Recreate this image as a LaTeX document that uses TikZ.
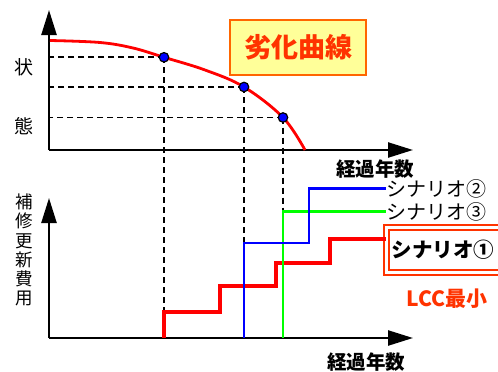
\documentclass[tikz,border=0pt]{standalone}
\usepackage{fontspec}
\newfontfamily\jp{Noto Sans CJK JP}
\usetikzlibrary{arrows.meta}
\definecolor{lccred}{HTML}{FF3300}
\definecolor{boxorange}{HTML}{FF6600}
\definecolor{boxyellow}{HTML}{FFFF99}
\definecolor{curvered}{HTML}{FF0000}
\definecolor{stepblue}{HTML}{0000FF}
\definecolor{stepgreen}{HTML}{00FF00}
\begin{document}
\begin{tikzpicture}[x=1pt,y=-1pt,
  axis/.style={line width=2.4pt,-{Triangle[length=25pt,width=15pt]}},
  guide/.style={dash pattern=on 6pt off 4pt,line width=1.7pt},
  dot/.style={circle,fill=stepblue,draw=black,line width=1.2pt,minimum size=9.5pt,inner sep=0pt},
  lbl/.style={font=\jp\fontsize{19}{19}\selectfont,inner sep=0pt},
  boldlbl/.style={font=\jp\bfseries\fontsize{19.5}{19.5}\selectfont,inner sep=0pt},
  redstep/.style={curvered,line width=3.8pt},
  bluestep/.style={stepblue,line width=2.6pt},
  greenstep/.style={stepgreen,line width=2.6pt},
  scen/.style={font=\jp\fontsize{20}{20}\selectfont,inner sep=0pt,anchor=west},
  ]
\useasboundingbox (0,0) rectangle (498,372);
% axes origins
\coordinate (o1) at (49,150);
\coordinate (o2) at (49,338);
% upper chart
\draw[axis] (o1) -- (49,10);
\draw[axis] (o1) -- (413,150);
\node[lbl] (ls) at (24,67.5) {状};
\node[lbl] (lt) at (24,126) {態};
\node[boldlbl] (xl1) at (375,169) {経過年数};
\node[draw=boxorange,line width=1.5pt,fill=boxyellow,minimum width=136pt,minimum height=55pt,
  text=lccred,font=\jp\bfseries\fontsize{27}{27}\selectfont,inner sep=0pt] (title) at (298,47.5) {劣化曲線};
% lower chart
\draw[axis] (o2) -- (49,198);
\draw[axis] (o2) -- (413,338);
\node[font=\jp\fontsize{17.5}{19.2}\selectfont,inner sep=0pt,align=center] (ly) at (24,250)
  {補\\修\\更\\新\\費\\用};
\node[boldlbl] (xl2) at (366,362.5) {経過年数};
% step coordinates
\coordinate (r0) at (164,338);
\coordinate (r1) at (220,312);
\coordinate (r2) at (276,286);
\coordinate (r3) at (330,263);
\coordinate (r4) at (330,239);
\coordinate (b0) at (244,338);
\coordinate (b1) at (309,243);
\coordinate (g0) at (283,338);
% labels
\node[scen] (s2) at (386,188.5) {シナリオ②};
\node[scen] (s3) at (386,211.5) {シナリオ③};
\node[draw=lccred,double=white,double distance=3pt,line width=2pt,fill=white,
  anchor=west,minimum height=45pt,text width=120pt,inner xsep=5pt,inner ysep=0pt,align=left,
  font=\jp\bfseries\fontsize{20.5}{20.5}\selectfont] (s1) at (385.5,249.5) {シナリオ①};
\node[text=lccred,font=\jp\bfseries\fontsize{21}{21}\selectfont,inner sep=0pt] (lcc) at (447,298.5) {LCC最小};
% curve
\draw[curvered,line width=2.8pt] plot[smooth,tension=0.6] coordinates
  {(50,40.5) (100,42.5) (133,48) (164,57.3) (205,70) (244,87) (283,117.5) (305,150)};
% dots
\coordinate (p1) at (164,57.3);
\coordinate (p2) at (244,87);
\coordinate (p3) at (283,117.5);
% guides
\draw[guide] (p1) -- (p1 -| o1);
\draw[guide] (p2) -- (p2 -| o1);
\draw[guide] (p3) -- (p3 -| o1);
\draw[guide] (p1) -- (p1 |- r1);
\draw[guide] (p2) -- (p2 |- b1);
\draw[guide] (p3) -- (p3 |- s3.west);
\node[dot] (d1) at (p1) {};
\node[dot] (d2) at (p2) {};
\node[dot] (d3) at (p3) {};
% steps
\draw[redstep] (r0) |- (r1) |- (r2) |- (r3) -- (r4) -- (r4 -| s1.west);
\draw[greenstep] (g0) |- (s3.west);
\draw[bluestep] (b0) |- (b1) |- (s2.west);
\end{tikzpicture}
\end{document}
